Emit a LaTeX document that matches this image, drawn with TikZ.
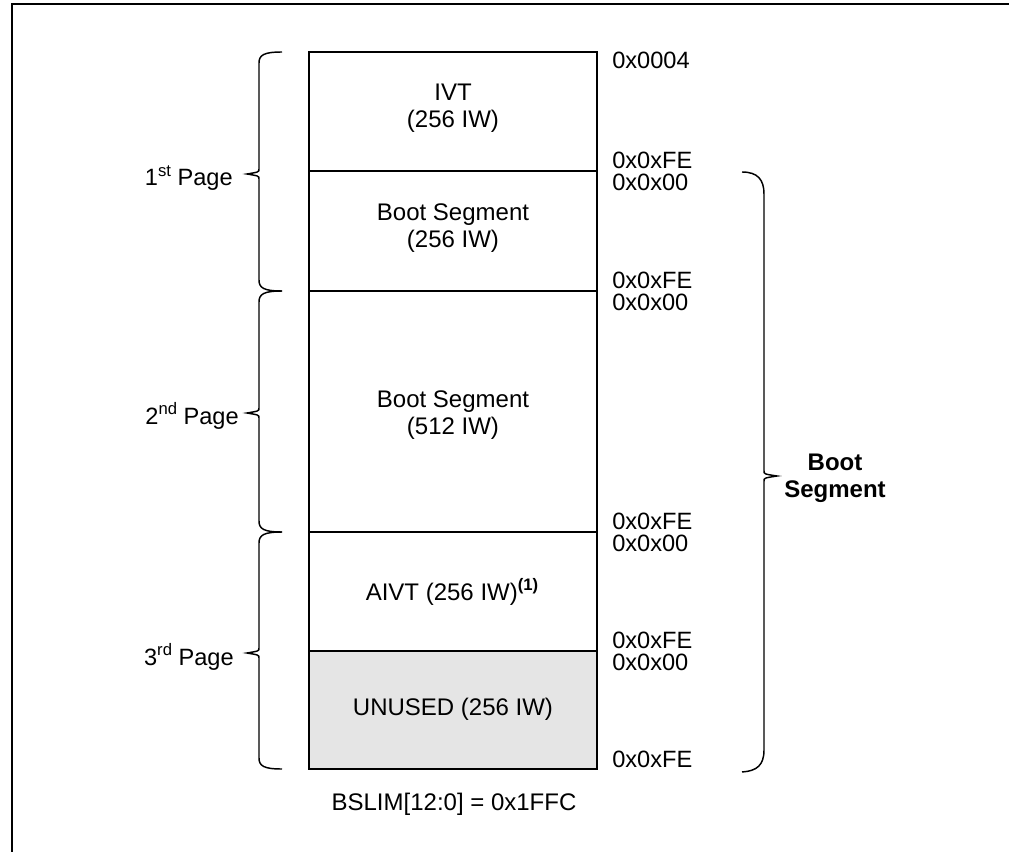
\documentclass[tikz,border=0pt]{standalone}
\usepackage{fontspec}
\setmainfont{Liberation Sans}
\newcommand{\supr}[1]{\raisebox{0.42em}{\fontsize{12.5}{12}\selectfont #1}}
\begin{document}
\begin{tikzpicture}[x=0.75pt,y=-0.75pt,
  txt/.style={inner sep=0pt,font=\fontsize{18}{20}\selectfont,align=center},
  addr/.style={inner sep=0pt,font=\fontsize{17.7}{20}\selectfont},
  boxline/.style={line width=1.5pt},
  brace/.style={line width=1.1pt},
  frameline/.style={line width=1.6pt}]
\useasboundingbox (0,0) rectangle (1009,852);
% frame
\draw[frameline] (12,852) -- (12,4) -- (1009,4);
% memory box
\fill[black!10] (309,651) rectangle (597,769);
\draw[boxline] (309,52) rectangle (597,769);
\draw[boxline] (309,171) -- (597,171);
\draw[boxline] (309,291) -- (597,291);
\draw[boxline] (309,532) -- (597,532);
\draw[boxline] (309,651) -- (597,651);
% segment texts
\node[txt] (ivt) at (453,108) {IVT\\(256 IW)};
\node[txt] (bs1) at (453,228) {Boot Segment\\(256 IW)};
\node[txt] (bs2) at (453,415) {Boot Segment\\(512 IW)};
\node[txt] (aivt) at (452,592) {AIVT (256 IW)\supr{\bfseries(1)}};
\node[txt] (unused) at (453,709) {UNUSED (256 IW)};
\node[txt,anchor=base] (bslim) at (454,810) {BSLIM[12:0] = 0x1FFC};
% addresses
\node[addr,anchor=north west] (a0) at (612,52) {0x0004};
\node[addr,anchor=south west] (a1e) at (612,168.5) {0x0xFE};
\node[addr,anchor=north west] (a1s) at (612,173.5) {0x0x00};
\node[addr,anchor=south west] (a2e) at (612,288.5) {0x0xFE};
\node[addr,anchor=north west] (a2s) at (612,293.5) {0x0x00};
\node[addr,anchor=south west] (a3e) at (612,529.5) {0x0xFE};
\node[addr,anchor=north west] (a3s) at (612,534.5) {0x0x00};
\node[addr,anchor=south west] (a4e) at (612,648.5) {0x0xFE};
\node[addr,anchor=north west] (a4s) at (612,653.5) {0x0x00};
\node[addr,anchor=south west] (a5e) at (612,768) {0x0xFE};
% left braces
\draw[brace] (282,52) .. controls (264,52) and (259,55) .. (259,63) -- (259,169)
  .. controls (259,172) .. (247,174) .. controls (259,176) .. (259,179) -- (259,280)
  .. controls (259,288) and (264,291) .. (282,291);
\draw[brace] (282,291) .. controls (264,291) and (259,294) .. (259,302) -- (259,408)
  .. controls (259,411) .. (247,413) .. controls (259,415) .. (259,418) -- (259,521)
  .. controls (259,529) and (264,532) .. (282,532);
\draw[brace] (282,532) .. controls (264,532) and (259,535) .. (259,543) -- (259,648)
  .. controls (259,651) .. (247,653) .. controls (259,655) .. (259,658) -- (259,758)
  .. controls (259,766) and (264,769) .. (282,769);
% right brace
\draw[brace] (742,172) .. controls (758,172) and (764,180) .. (764,194) -- (764,471)
  .. controls (764,474) .. (777,476) .. controls (764,478) .. (764,481) -- (764,750)
  .. controls (764,765) and (757,771) .. (742,772);
% page labels
\node[addr,anchor=base east] (p1) at (233,186) {1\supr{st} Page};
\node[addr,anchor=base east] (p2) at (239,424) {2\supr{nd} Page};
\node[addr,anchor=base east] (p3) at (234,665) {3\supr{rd} Page};
\node[txt,font=\fontsize{18}{20}\selectfont\bfseries] (bseg) at (835,478) {Boot\\Segment};
\end{tikzpicture}
\end{document}
